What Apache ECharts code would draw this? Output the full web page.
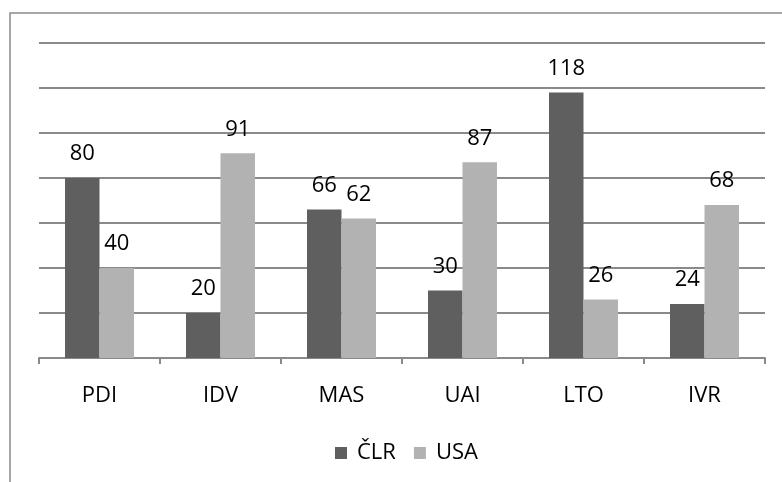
<!DOCTYPE html>
<html>
<head>
<meta charset="utf-8">
<script src="https://cdn.jsdelivr.net/npm/echarts@6/dist/echarts.min.js"></script>
<style>
  html, body { margin: 0; padding: 0; background: #fff; }
  #chart { width: 782px; height: 482px; }
</style>
</head>
<body>
<div id="chart"></div>
<script>
// Hofstede dimensions: China vs. USA
const categories = ['PDI', 'IDV', 'MAS', 'UAI', 'LTO', 'IVR'];
const seriesNames = ['ČLR', 'USA'];
const clrValues = [80, 20, 66, 30, 118, 24];
const usaValues = [40, 91, 62, 87, 26, 68];

const font = '"Open Sans", "Noto Sans", sans-serif';
const chart = echarts.init(document.getElementById('chart'), null, { renderer: 'canvas' });

const labelStyle = {
  show: true,
  position: 'top',
  distance: 13,
  color: '#000',
  fontFamily: font,
  fontSize: 22
};

chart.setOption({
  animation: false,
  backgroundColor: '#fff',
  graphic: [
    {
      type: 'polyline',
      shape: { points: [[10, 482], [10, 13], [782, 13]] },
      style: { stroke: '#8a8a8a', lineWidth: 1.5, fill: null },
      silent: true
    }
  ],
  grid: { left: 39, right: 17, top: 43, bottom: 124 },
  legend: {
    data: seriesNames,
    bottom: 18,
    left: 335,
    padding: 0,
    itemWidth: 12,
    itemHeight: 12,
    itemGap: 18,
    icon: 'rect',
    textStyle: { fontFamily: font, fontSize: 22, color: '#000', padding: [0, 0, 0, 5] }
  },
  xAxis: {
    type: 'category',
    data: categories,
    axisLine: { lineStyle: { color: '#8a8a8a', width: 2 } },
    axisTick: { show: true, length: 6, lineStyle: { color: '#8a8a8a', width: 2 } },
    axisLabel: { margin: 27, color: '#000', fontFamily: font, fontSize: 22 }
  },
  yAxis: {
    type: 'value',
    min: 0,
    max: 140,
    interval: 20,
    axisLabel: { show: false },
    axisLine: { show: false },
    axisTick: { show: false },
    splitLine: { lineStyle: { color: '#8a8a8a', width: 2 } }
  },
  series: [
    {
      name: seriesNames[0],
      type: 'bar',
      data: clrValues,
      barGap: '0%',
      barCategoryGap: '43%',
      itemStyle: { color: '#5f5f5f' },
      label: labelStyle
    },
    {
      name: seriesNames[1],
      type: 'bar',
      data: usaValues,
      itemStyle: { color: '#b2b2b2' },
      label: labelStyle
    }
  ]
});
</script>
</body>
</html>
